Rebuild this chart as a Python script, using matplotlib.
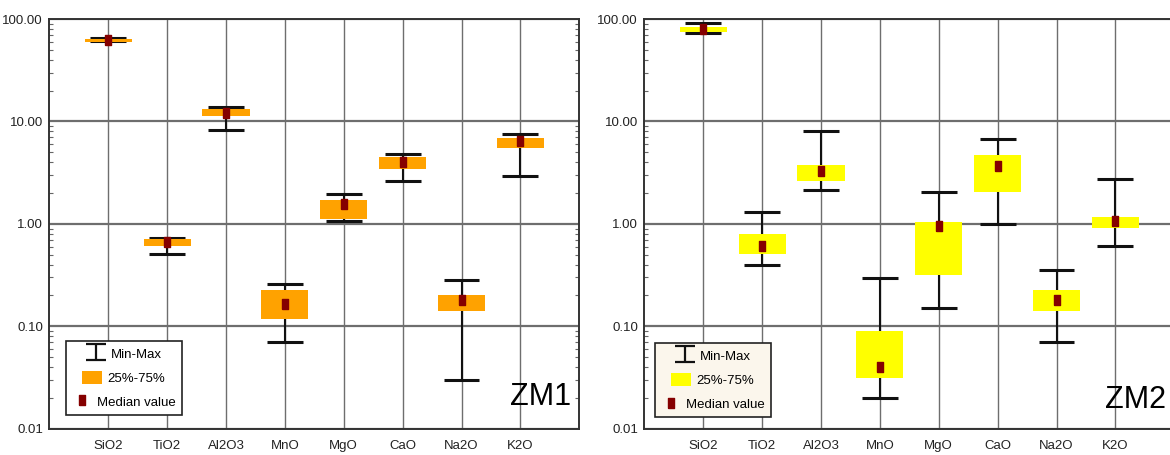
import numpy as np
import matplotlib
matplotlib.use('Agg')
import matplotlib.pyplot as plt
from matplotlib.lines import Line2D
from matplotlib.patches import Patch
from matplotlib.path import Path
from matplotlib.ticker import FixedLocator, LogLocator, NullFormatter, FormatStrFormatter

plt.rcParams['font.family'] = ['Liberation Sans', 'DejaVu Sans']

# Data (wt %)
oxides = ['SiO2', 'TiO2', 'Al2O3', 'MnO', 'MgO', 'CaO', 'Na2O', 'K2O']

zm1_min = [60.4, 0.51, 8.2, 0.070, 1.06, 2.60, 0.030, 2.95]
zm1_q1 = [59.8, 0.61, 11.4, 0.119, 1.11, 3.41, 0.141, 5.46]
zm1_med = [62.2, 0.66, 12.2, 0.166, 1.55, 4.02, 0.179, 6.49]
zm1_q3 = [63.2, 0.71, 13.1, 0.227, 1.71, 4.47, 0.200, 6.93]
zm1_max = [64.8, 0.73, 13.8, 0.257, 1.94, 4.81, 0.280, 7.48]

zm2_min = [73.0, 0.40, 2.12, 0.020, 0.151, 1.00, 0.070, 0.61]
zm2_q1 = [75.2, 0.51, 2.60, 0.031, 0.318, 2.03, 0.141, 0.91]
zm2_med = [79.3, 0.61, 3.26, 0.040, 0.95, 3.67, 0.179, 1.06]
zm2_q3 = [83.0, 0.79, 3.75, 0.090, 1.05, 4.66, 0.227, 1.17]
zm2_max = [91.4, 1.31, 8.05, 0.294, 2.03, 6.77, 0.356, 2.72]

legend_labels = ['Min-Max', '25%-75%', 'Median value']

# marker shapes
med_marker = [(-0.33, -0.5), (0.33, -0.5), (0.33, 0.5), (-0.33, 0.5), (-0.33, -0.5)]
ibar = Path([(-1, 0.76), (1, 0.76), (0, 0.76), (0, -0.76), (-1, -0.76), (1, -0.76)],
            [Path.MOVETO, Path.LINETO, Path.MOVETO, Path.LINETO, Path.MOVETO, Path.LINETO])

MED_COLOR = '#850000'
GRID = '#6e6e6e'
FS = 9.5


def draw_panel(ax, mins, q1, med, q3, maxs, box_color, leg_face, leg_xy, tag, tag_xy, tag_ha):
    x = np.arange(1, len(oxides) + 1)
    mins, q1, med, q3, maxs = map(np.array, (mins, q1, med, q3, maxs))

    ax.set_yscale('log')
    ax.set_ylim(0.01, 100)
    ax.set_xlim(0, 9)

    # whisker stems and caps sit under the box
    ax.vlines(x, mins, maxs, color='#111111', lw=1.5, zorder=2)
    ax.hlines(np.concatenate([mins, maxs]), np.concatenate([x, x]) - 0.305,
              np.concatenate([x, x]) + 0.305, color='#111111', lw=2.2, zorder=2.5)
    ax.bar(x, q3 - q1, bottom=q1, width=0.8, color=box_color, zorder=3)
    ax.plot(x, med, ls='none', marker=med_marker, ms=6.5, color=MED_COLOR, zorder=5)

    ax.set_xticks(x)
    ax.set_xticklabels(oxides)
    ax.yaxis.set_major_locator(FixedLocator([0.01, 0.1, 1, 10, 100]))
    ax.yaxis.set_major_formatter(FormatStrFormatter('%.2f'))
    ax.yaxis.set_minor_locator(LogLocator(base=10, subs=np.arange(2, 10)))
    ax.yaxis.set_minor_formatter(NullFormatter())
    ax.tick_params(axis='both', which='major', length=0, labelsize=FS, colors='#222222')
    ax.tick_params(axis='x', pad=8)
    ax.tick_params(axis='y', pad=4.5)
    ax.tick_params(axis='y', which='minor', direction='in', length=3, width=0.8,
                   color='#666666', left=True, right=True)

    ax.set_axisbelow(True)
    ax.xaxis.grid(True, color=GRID, lw=1.0)
    ax.yaxis.grid(True, which='major', color=GRID, lw=1.6)
    for s in ax.spines.values():
        s.set_color('#333333')
        s.set_linewidth(1.4)

    handles = [
        Line2D([], [], ls='none', marker=ibar, ms=15, mfc='none', mec='#111111', mew=1.6),
        Patch(facecolor=box_color),
        Line2D([], [], ls='none', marker=med_marker, ms=6.5, color=MED_COLOR),
    ]
    leg = ax.legend(handles, legend_labels, loc='lower left', bbox_to_anchor=leg_xy,
                    borderaxespad=0, fancybox=False, edgecolor='#222222', facecolor=leg_face,
                    framealpha=1, fontsize=FS, handlelength=1.5, handleheight=1.1,
                    labelspacing=0.78, borderpad=0.45, handletextpad=0.4)
    leg.get_frame().set_linewidth(1.2)
    # rows centred in the box, like the original legend
    leg._legend_handle_box.get_children()[0].align = 'center'

    ax.text(tag_xy[0], tag_xy[1], tag, transform=ax.transAxes, ha=tag_ha, va='baseline',
            fontsize=22, color='black')


fig = plt.figure(figsize=(11.7, 4.55), dpi=100)
ax1 = fig.add_axes([49.3 / 1170, 26.3 / 455, 530 / 1170, 409.7 / 455])
ax2 = fig.add_axes([644.3 / 1170, 26.3 / 455, 530 / 1170, 409.7 / 455])

draw_panel(ax1, zm1_min, zm1_q1, zm1_med, zm1_q3, zm1_max, '#FFA200', 'white',
           (0.0315, 0.034), 'ZM1', (0.984, 0.057), 'right')
draw_panel(ax2, zm2_min, zm2_q1, zm2_med, zm2_q3, zm2_max, '#FFFF00', '#FBF6EC',
           (0.020, 0.0286), 'ZM2', (0.985, 0.0505), 'right')

fig.savefig('out.png', dpi=100)
